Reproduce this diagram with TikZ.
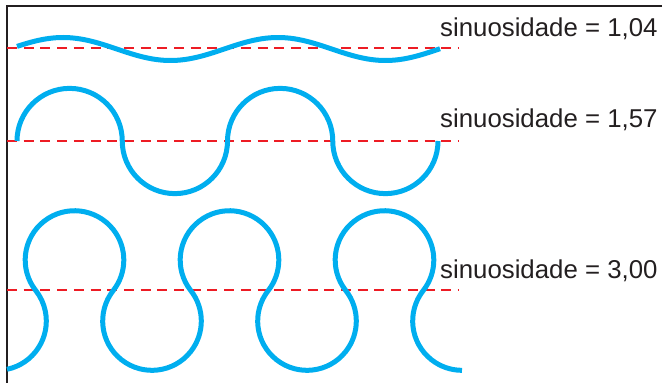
\documentclass[tikz,border=0pt]{standalone}
\usepackage{fontspec}
\setmainfont{Liberation Sans}
\definecolor{wavecyan}{RGB}{0,174,239}
\definecolor{refred}{RGB}{237,28,36}
\definecolor{framegray}{RGB}{35,31,32}
\begin{document}
\begin{tikzpicture}[x=1pt,y=1pt,
  frameline/.style={draw=framegray,line width=2pt},
  refline/.style={draw=refred,line width=2pt,dash pattern=on 10pt off 6.7pt},
  wave/.style={draw=wavecyan,line width=5pt},
  lab/.style={anchor=base west,inner sep=0pt,font=\fontsize{25.8}{30}\selectfont,text=framegray}]
\useasboundingbox (0,0) rectangle (664,383);
% frame
\draw[frameline] (662,377) -- (7,377) -- (7,0);
% reference lines
\draw[refline] (7,335) -- (458,335);
\draw[refline] (7,242) -- (458,242);
\draw[refline] (7,93) -- (458,93);
% wave 1
\draw[wave,smooth,samples=120,domain=17:440] plot (\x,{334+11.5*cos((\x-63)*1.67442)});
% wave 2
\def\r{52.625}
\draw[wave] (17,242) arc[start angle=180,end angle=0,radius=\r]
  arc[start angle=180,end angle=360,radius=\r]
  arc[start angle=180,end angle=0,radius=\r]
  arc[start angle=180,end angle=360,radius=\r];
% wave 3
\def\R{49.31}
\draw[wave] (7,13.7) arc[start angle=-78.3,end angle=38.2,radius=\R]
  arc[start angle=218.2,end angle=-38.2,radius=\R]
  arc[start angle=141.8,end angle=398.2,radius=\R]
  arc[start angle=218.2,end angle=-38.2,radius=\R]
  arc[start angle=141.8,end angle=398.2,radius=\R]
  arc[start angle=218.2,end angle=-38.2,radius=\R]
  arc[start angle=141.8,end angle=270,radius=\R];
% labels
\node[lab] (l1) at (440,346) {sinuosidade = 1,04};
\node[lab] (l2) at (440,255) {sinuosidade = 1,57};
\node[lab] (l3) at (440,104) {sinuosidade = 3,00};
\end{tikzpicture}
\end{document}
